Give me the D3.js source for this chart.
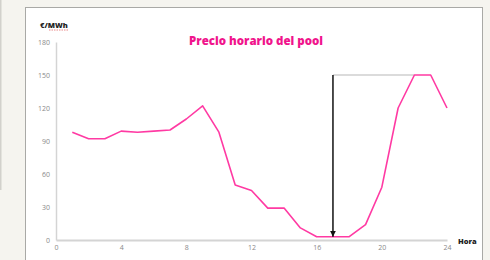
<!DOCTYPE html>
<html>
<head>
<meta charset="utf-8">
<script src="https://cdn.jsdelivr.net/npm/d3@7"></script>
<style>
  body { margin: 0; background: #f5f4ef; }
  svg { display: block; }
</style>
</head>
<body>
<svg id="chart"></svg>
<script>
// Hourly pool price (€/MWh), hours 1..24
var hours = d3.range(1, 25);
var prices = [98, 92, 92, 99, 98, 99, 100, 110, 122, 98, 50, 45, 29, 29, 11, 3, 3, 3, 14, 48, 120, 150, 150, 120];
var xTicks = [0, 4, 8, 12, 16, 20, 24];
var yTicks = [0, 30, 60, 90, 120, 150, 180];
// arrow from the peak level down to the minimum
var arrowHour = 17, arrowTop = 150, arrowBottom = 3, arrowEndHour = 22;

var width = 490, height = 260;
var margin = {left: 56, right: 43, top: 42, bottom: 20};

var svg = d3.select("#chart")
    .attr("width", width)
    .attr("height", height);

// panel
svg.append("rect")
    .attr("x", 0).attr("y", 0)
    .attr("width", 1.5).attr("height", 190)
    .attr("fill", "#d2d1cc");
svg.append("rect")
    .attr("x", 25.5).attr("y", 7.5)
    .attr("width", 457).attr("height", 260)
    .attr("fill", "#fff")
    .attr("stroke", "#a9a9a6")
    .attr("stroke-width", 1);

var x = d3.scaleLinear().domain([0, 24]).range([margin.left, width - margin.right]);
var y = d3.scaleLinear().domain([0, 180]).range([height - margin.bottom, margin.top]);

// x axis
var xAxis = svg.append("g")
    .attr("transform", "translate(0," + y(0) + ")")
    .call(d3.axisBottom(x).tickValues(xTicks).tickSize(0).tickPadding(5));
xAxis.select(".domain").attr("stroke", "#d4d4d4").attr("stroke-width", 2);
xAxis.selectAll("text")
    .attr("fill", "#8a8a8a")
    .style("font-family", "Open Sans")
    .style("font-size", "7px");

// y axis
var yAxis = svg.append("g")
    .attr("transform", "translate(" + x(0) + ",0)")
    .call(d3.axisLeft(y).tickValues(yTicks).tickSize(0).tickPadding(6));
yAxis.select(".domain").attr("stroke", "#d4d4d4").attr("stroke-width", 1.5);
yAxis.selectAll("text")
    .attr("fill", "#8a8a8a")
    .style("font-family", "Open Sans")
    .style("font-size", "7px");

// labels
svg.append("text")
    .attr("x", 40).attr("y", 28)
    .style("font-family", "Open Sans")
    .style("font-weight", "800")
    .style("font-size", "7.5px")
    .attr("fill", "#222")
    .text("€/MWh");
svg.append("line")
    .attr("x1", 49).attr("x2", 69)
    .attr("y1", 30).attr("y2", 30)
    .attr("stroke", "#e36b6b")
    .attr("stroke-width", 0.8)
    .attr("stroke-dasharray", "1.5,1");

svg.append("text")
    .attr("x", 256).attr("y", 45)
    .attr("text-anchor", "middle")
    .style("font-family", "Open Sans")
    .style("font-weight", "800")
    .style("font-size", "11.5px")
    .attr("fill", "#f0148c")
    .text("Precio horario del pool");

svg.append("text")
    .attr("x", 458).attr("y", 244)
    .style("font-family", "Open Sans")
    .style("font-weight", "800")
    .style("font-size", "7.5px")
    .attr("fill", "#222")
    .text("Hora");

// gray reference line at the peak level
svg.append("line")
    .attr("x1", x(arrowHour)).attr("x2", x(arrowEndHour))
    .attr("y1", y(arrowTop)).attr("y2", y(arrowTop))
    .attr("stroke", "#cfcfcf")
    .attr("stroke-width", 1.5);

// price line
var line = d3.line()
    .x(function (d, i) { return x(hours[i]); })
    .y(function (d) { return y(d); });

svg.append("path")
    .datum(prices)
    .attr("fill", "none")
    .attr("stroke", "#ff3aa3")
    .attr("stroke-width", 1.6)
    .attr("stroke-linejoin", "round")
    .attr("d", line);

// arrow
svg.append("defs").append("marker")
    .attr("id", "head")
    .attr("viewBox", "0 0 10 10")
    .attr("refX", 10).attr("refY", 5)
    .attr("markerWidth", 4).attr("markerHeight", 4)
    .attr("orient", "auto")
    .append("path")
    .attr("d", "M0,0L10,5L0,10z")
    .attr("fill", "#111");

svg.append("line")
    .attr("x1", x(arrowHour)).attr("x2", x(arrowHour))
    .attr("y1", y(arrowTop)).attr("y2", y(arrowBottom))
    .attr("stroke", "#111")
    .attr("stroke-width", 1.5)
    .attr("marker-end", "url(#head)");
</script>
</body>
</html>
